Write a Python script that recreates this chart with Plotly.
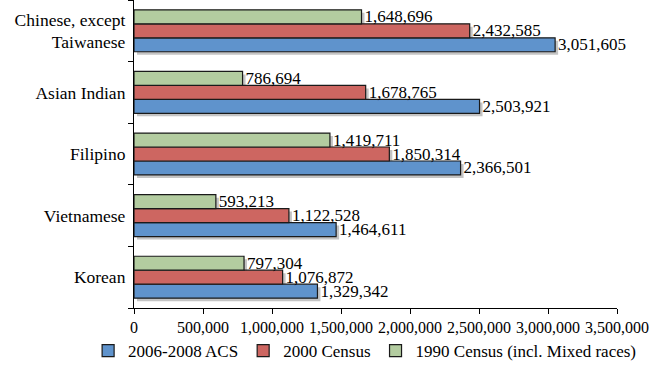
import plotly.graph_objects as go

categories = ["Chinese, except<br>Taiwanese", "Asian Indian", "Filipino", "Vietnamese", "Korean"]
acs_2006_2008 = [3051605, 2503921, 2366501, 1464611, 1329342]
census_2000 = [2432585, 1678765, 1850314, 1122528, 1076872]
census_1990 = [1648696, 786694, 1419711, 593213, 797304]
series_names = ["2006-2008 ACS", "2000 Census", "1990 Census (incl. Mixed races)"]
colors = ["#5f93cc", "#cd6661", "#b3cca0"]
x_ticks = [0, 500000, 1000000, 1500000, 2000000, 2500000, 3000000, 3500000]

# bottom-to-top order for plotly
cats = categories[::-1]
series = [acs_2006_2008[::-1], census_2000[::-1], census_1990[::-1]]

FONT = "Liberation Serif"
L, R, T, B = 134, 50, 0, 62
W, H = 667, 370
pw = W - L - R
ph = H - T - B
xmax = 3500000
ncat = len(cats)
sx = 3 * xmax / pw          # 3px shadow shift in x
sy = 3 * ncat / ph          # 3px shadow shift in y

fig = go.Figure()
# shadows on base axes (drawn beneath)
for vals in series:
    fig.add_trace(go.Bar(
        y=cats, x=vals, orientation="h", xaxis="x", yaxis="y",
        marker=dict(color="#c4c4c4", line=dict(width=0)),
        showlegend=False, hoverinfo="skip"))
# main bars on overlay axes
for name, vals, col in zip(series_names, series, colors):
    fig.add_trace(go.Bar(
        y=cats, x=vals, orientation="h", name=name, xaxis="x2", yaxis="y2",
        marker=dict(color=col, line=dict(color="#1a1a1a", width=1.2)),
        text=[f"{v:,}" for v in vals], textposition="outside",
        constraintext="none",
        textfont=dict(family=FONT, size=17, color="black"),
        cliponaxis=False))

fig.update_layout(
    width=W, height=H,
    margin=dict(l=L, r=R, t=T, b=B, autoexpand=False),
    paper_bgcolor="white", plot_bgcolor="white",
    barmode="group", bargap=0.32, bargroupgap=0,
    font=dict(family=FONT, size=15, color="black"),
    xaxis=dict(range=[-sx, xmax - sx], visible=False, fixedrange=True),
    yaxis=dict(range=[-0.5 + sy, ncat - 0.5 + sy], visible=False, type="category",
               categoryorder="array", categoryarray=cats),
    xaxis2=dict(overlaying="x", range=[0, xmax], tickvals=x_ticks,
                ticktext=[f"{v:,}" for v in x_ticks],
                showline=True, linecolor="black", linewidth=1.2,
                ticks="outside", ticklen=5, tickcolor="black",
                showgrid=False, zeroline=False,
                tickfont=dict(family=FONT, size=16, color="black"), anchor="y2"),
    yaxis2=dict(overlaying="y", range=[-0.5, ncat - 0.5], type="category",
                categoryorder="array", categoryarray=cats,
                showline=True, linecolor="black", linewidth=1.2,
                ticks="outside", ticklen=5, tickcolor="black", tickson="boundaries",
                showgrid=False, tickfont=dict(family=FONT, size=17.5, color="black"),
                ticklabelstandoff=4,
                anchor="x2", side="left"),
    legend=dict(orientation="h", x=-0.095, xanchor="left",
                y=-0.14, yanchor="middle", bgcolor="rgba(0,0,0,0)",
                font=dict(family=FONT, size=17, color="black"),
                itemwidth=30, traceorder="normal", tracegroupgap=0),
    showlegend=True,
)

fig.write_html("out.html")
